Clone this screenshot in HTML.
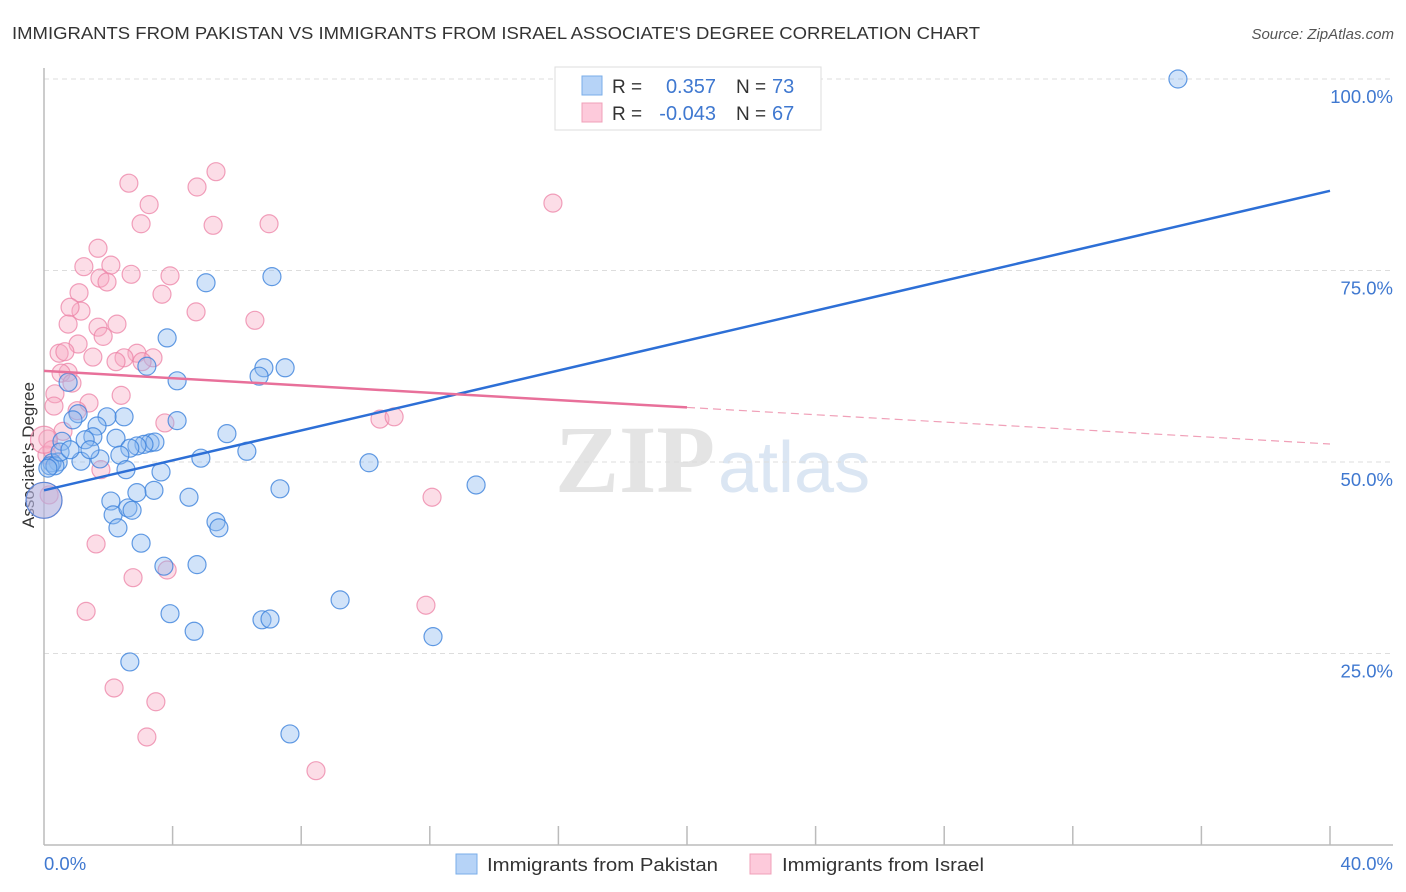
<!DOCTYPE html>
<html><head><meta charset="utf-8"><style>
body{margin:0;background:#fff;width:1406px;height:892px;overflow:hidden;font-family:"Liberation Sans",sans-serif}
svg{position:absolute;left:0;top:0}
</style></head><body>
<svg id="chart" width="1406" height="892" xmlns="http://www.w3.org/2000/svg">
<text x="12" y="39" font-size="17.5" fill="#333" textLength="968" lengthAdjust="spacingAndGlyphs">IMMIGRANTS FROM PAKISTAN VS IMMIGRANTS FROM ISRAEL ASSOCIATE'S DEGREE CORRELATION CHART</text>
<text x="1394" y="39" font-size="15" fill="#555" font-style="italic" text-anchor="end">Source: ZipAtlas.com</text>
<text x="34" y="455" font-size="17" fill="#333" text-anchor="middle" transform="rotate(-90 34 455)">Associate's Degree</text>
<g><text x="555" y="492" font-size="96" fill="#e4e4e4" font-family="Liberation Serif,serif" font-weight="bold">ZIP</text><text x="718" y="492" font-size="72" fill="#dbe6f3">atlas</text></g>
<g id="grid"></g><g id="axes"></g><g id="marks"></g>
<g>
<rect x="555" y="67" width="266" height="63" fill="#fff" stroke="#ddd"/>
<rect x="582" y="76" width="20" height="19" fill="#b6d3f7" stroke="#7aaee8"/>
<rect x="582" y="103" width="20" height="19" fill="#fdcadb" stroke="#f0a0b8"/>
<text x="612" y="93" font-size="19" fill="#333">R = </text><text x="716" y="93" font-size="20" fill="#3f78d0" text-anchor="end">0.357</text>
<text x="736" y="93" font-size="19" fill="#333">N = </text><text x="772" y="93" font-size="20" fill="#3f78d0">73</text>
<text x="612" y="120" font-size="19" fill="#333">R = </text><text x="716" y="120" font-size="20" fill="#3f78d0" text-anchor="end">-0.043</text>
<text x="736" y="120" font-size="19" fill="#333">N = </text><text x="772" y="120" font-size="20" fill="#3f78d0">67</text>
</g>
<g>
<rect x="456" y="854" width="21" height="20" fill="#b6d3f7" stroke="#7aaee8"/>
<text x="487" y="871" font-size="18" fill="#333" textLength="231" lengthAdjust="spacingAndGlyphs">Immigrants from Pakistan</text>
<rect x="750" y="854" width="21" height="20" fill="#fdcadb" stroke="#f0a0b8"/>
<text x="782" y="871" font-size="18" fill="#333" textLength="202" lengthAdjust="spacingAndGlyphs">Immigrants from Israel</text>
</g>
</svg>
<script>
const blueX=[35.27,16.42,7.09,5.04,3.83,7.50,6.84,6.69,4.14,3.20,0.75,4.14,2.49,1.96,1.06,1.65,0.90,5.69,2.24,1.52,1.28,0.56,3.30,3.45,3.11,2.89,2.67,6.31,4.88,2.36,1.74,1.15,0.44,0.25,0.19,0.34,10.11,3.64,2.55,13.44,7.34,3.42,2.89,4.51,2.08,5.35,5.44,2.15,2.61,2.30,3.02,3.73,4.76,3.92,9.21,6.78,7.03,4.67,12.10,2.67,7.65,0,0.12,0.50,0.81,1.43,2.74];
const blueY=[100,96.9,74.2,73.4,66.2,62.3,62.3,61.2,60.6,62.5,60.4,55.4,55.9,55.9,56.3,54.7,55.5,53.7,53.1,53.3,52.9,52.7,52.5,52.6,52.3,52.1,51.8,51.4,50.5,50.9,50.4,50.1,50.0,49.9,49.5,49.5,49.9,48.7,49.0,47.0,46.5,46.3,46.0,45.4,44.9,42.2,41.4,43.1,44.0,41.4,39.4,36.4,36.6,30.2,32.0,29.4,29.5,27.9,27.2,23.9,14.5,45.0,49.2,51.3,51.6,51.6,43.7];
const blueSize=blueX.map((v,i)=>i===61?2:1);
const pinkX=[5.35,2.64,4.76,3.27,15.83,3.02,5.26,7.00,1.68,1.24,2.08,2.71,3.92,1.74,1.96,3.67,1.09,4.73,1.15,0.81,0.75,1.68,2.27,6.56,1.84,1.06,1.52,0.47,0.65,2.89,2.49,3.39,3.05,2.24,0.75,0.53,0.87,2.40,0.34,0.31,1.40,1.03,10.45,10.89,3.76,0.12,0.59,0.09,0.25,0.16,1.77,12.07,1.62,2.77,3.83,1.31,11.88,2.18,3.48,3.20,8.46,0,0];
const pinkY=[87.9,86.4,85.9,83.6,83.8,81.1,80.9,81.1,77.9,75.5,75.7,74.5,74.3,74.0,73.5,71.9,72.1,69.6,69.7,70.2,68.0,67.6,68.0,68.5,66.4,65.4,63.7,64.2,64.4,64.2,63.6,63.6,63.1,63.1,61.7,61.6,60.3,58.7,58.9,57.3,57.7,56.7,55.6,55.9,55.1,53.0,54.0,50.9,51.6,45.7,49.0,45.4,39.3,34.9,35.9,30.5,31.3,20.5,18.7,14.1,9.7,45.0,52.9];
const pinkSize=pinkX.map((v,i)=>i===61?2:(i===62?1.5:1));
const blueTrend=[46.3,85.4];
const pinkTrend=[61.9,52.35];
const pinkSolidEnd=20;
const yTicks=[25,50,75,100];
const yTickLabels=["25.0%","50.0%","75.0%","100.0%"];
const xTickCount=10;
const xMin=0,xMax=40;

const NS="http://www.w3.org/2000/svg";
const X=v=>44+(v-xMin)/(xMax-xMin)*1286;
const Y=v=>845-v/100*766;
function mk(tag,attrs,parent){const e=document.createElementNS(NS,tag);for(const k in attrs)e.setAttribute(k,attrs[k]);parent.appendChild(e);return e;}
const grid=document.getElementById('grid'),axes=document.getElementById('axes'),marks=document.getElementById('marks');
yTicks.forEach((t,i)=>{
  const l=mk('line',{x1:44,x2:1393,y1:Y(t),y2:Y(t),stroke:'#ddd','stroke-dasharray':'5,4'},grid);
  
  
  const tx=mk('text',{x:1393,y:Y(t)+24,'font-size':18.5,fill:'#3f78d0','text-anchor':'end'},axes);
  tx.textContent=yTickLabels[i];
  
  
});
const ya=mk('line',{x1:44,x2:44,y1:68,y2:845,stroke:'#bbb','stroke-width':1.5},axes);


const xa=mk('line',{x1:44,x2:1393,y1:845,y2:845,stroke:'#bbb','stroke-width':1.5},axes);


for(let i=1;i<=xTickCount;i++){
  const xv=xMin+(xMax-xMin)*i/xTickCount;
  const t=mk('line',{x1:X(xv),x2:X(xv),y1:826,y2:845,stroke:'#bbb','stroke-width':1.5},axes);
  
  
}
const xl0=mk('text',{x:44,y:870,'font-size':18.5,fill:'#3f78d0'},axes);xl0.textContent=xMin.toFixed(1)+'%';


const xl1=mk('text',{x:1393,y:870,'font-size':18.5,fill:'#3f78d0','text-anchor':'end'},axes);xl1.textContent=xMax.toFixed(1)+'%';



function pts(xs,ys,sz,fill,stroke,name){
  xs.forEach((v,i)=>{
    const c=mk('circle',{cx:X(v),cy:Y(ys[i]),r:9*sz[i],fill:fill,stroke:stroke,'stroke-width':1.2},marks);
    
    
  });
}
pts(pinkX,pinkY,pinkSize,'rgba(248,170,195,0.4)','rgba(236,130,165,0.75)','point-israel');
pts(blueX,blueY,blueSize,'rgba(140,185,240,0.4)','rgba(60,130,220,0.8)','point-pakistan');
const py=x=>pinkTrend[0]+(pinkTrend[1]-pinkTrend[0])*(x-xMin)/(xMax-xMin);
const bt=mk('line',{x1:X(xMin),y1:Y(blueTrend[0]),x2:X(xMax),y2:Y(blueTrend[1]),stroke:'#2d6fd6','stroke-width':2.5},marks);


const pt=mk('line',{x1:X(xMin),y1:Y(py(xMin)),x2:X(pinkSolidEnd),y2:Y(py(pinkSolidEnd)),stroke:'#e8709a','stroke-width':2.5},marks);


const pd=mk('line',{x1:X(pinkSolidEnd),y1:Y(py(pinkSolidEnd)),x2:X(xMax),y2:Y(py(xMax)),stroke:'#f0a0b8','stroke-width':1.2,'stroke-dasharray':'8,5'},marks);


</script>
</body></html>
